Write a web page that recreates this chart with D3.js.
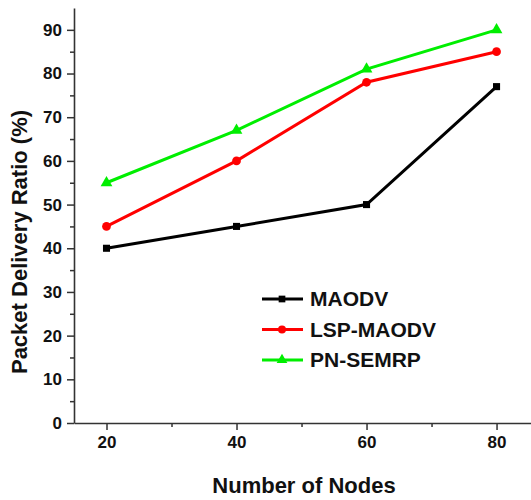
<!DOCTYPE html>
<html>
<head>
<meta charset="utf-8">
<script src="https://cdn.jsdelivr.net/npm/d3@7"></script>
<style>
body{margin:0;background:#fff;}
svg text{font-family:"Liberation Sans",Arial,sans-serif;font-weight:bold;fill:#111;}
</style>
</head>
<body>
<div id="chart"></div>
<script>
var nodes = [20, 40, 60, 80];
var maodv = [40, 45, 50, 77];
var lspMaodv = [45, 60, 78, 85];
var pnSemrp = [55, 67, 81, 90];
var seriesNames = ["MAODV", "LSP-MAODV", "PN-SEMRP"];
var seriesColors = ["#000000", "#ff0000", "#00ee00"];
var seriesShapes = [d3.symbolSquare, d3.symbolCircle, d3.symbolTriangle];
var yTicks = [0, 10, 20, 30, 40, 50, 60, 70, 80, 90];
var xTicks = [20, 40, 60, 80];

var width = 531, height = 500;
var margin = {left:74, right:0, top:8, bottom:77};

var svg = d3.select("#chart").append("svg")
	.attr("width", width)
	.attr("height", height);

var x = d3.scaleLinear().domain([15, 85.3]).range([margin.left, width-margin.right]);
var y = d3.scaleLinear().domain([0, 95]).range([height-margin.bottom, margin.top]);

// minor ticks
svg.append("g")
	.attr("transform", "translate(0,"+(height-margin.bottom)+")")
	.call(d3.axisBottom(x).tickValues([30, 50, 70]).tickSize(4).tickFormat(""))
	.call(function(g){g.select(".domain").remove();});
svg.append("g")
	.attr("transform", "translate("+margin.left+",0)")
	.call(d3.axisLeft(y).tickValues([5, 15, 25, 35, 45, 55, 65, 75, 85]).tickSize(4).tickFormat(""))
	.call(function(g){g.select(".domain").remove();});

var xAxis = svg.append("g")
	.attr("transform", "translate(0,"+(height-margin.bottom)+")")
	.call(d3.axisBottom(x).tickValues(xTicks).tickSize(7).tickSizeOuter(0).tickPadding(6));
var yAxis = svg.append("g")
	.attr("transform", "translate("+margin.left+",0)")
	.call(d3.axisLeft(y).tickValues(yTicks).tickSize(7).tickSizeOuter(0).tickPadding(5));

svg.selectAll(".domain").attr("stroke", "#333").attr("stroke-width", 1.6);
svg.selectAll(".tick line").attr("stroke", "#333").attr("stroke-width", 1.5);
xAxis.selectAll("text").style("font-size", "17px").attr("fill", "#111");
yAxis.selectAll("text").style("font-size", "17px").attr("fill", "#111");

svg.append("text")
	.attr("x", 304)
	.attr("y", 493)
	.attr("text-anchor", "middle")
	.style("font-size", "22px")
	.text("Number of Nodes");
svg.append("text")
	.attr("transform", "translate(27,242) rotate(-90)")
	.attr("text-anchor", "middle")
	.style("font-size", "22px")
	.text("Packet Delivery Ratio (%)");

var allSeries = [maodv, lspMaodv, pnSemrp];
var line = d3.line()
	.x(function(d, i){return x(nodes[i]);})
	.y(function(d){return y(d);});

allSeries.forEach(function(vals, s){
	svg.append("path")
		.datum(vals)
		.attr("fill", "none")
		.attr("stroke", seriesColors[s])
		.attr("stroke-width", 3)
		.attr("d", line);
	svg.selectAll(".pt"+s)
		.data(vals)
		.enter().append("path")
		.attr("transform", function(d, i){return "translate("+x(nodes[i])+","+y(d)+")";})
		.attr("d", d3.symbol().type(seriesShapes[s]).size(s==0 ? 50 : 60))
		.attr("fill", seriesColors[s]);
});

// legend
var legend = svg.append("g");
seriesNames.forEach(function(name, s){
	var ly = 299 + s*30.5;
	legend.append("line")
		.attr("x1", 262).attr("x2", 303)
		.attr("y1", ly).attr("y2", ly)
		.attr("stroke", seriesColors[s])
		.attr("stroke-width", 3);
	legend.append("path")
		.attr("transform", "translate(282,"+ly+")")
		.attr("d", d3.symbol().type(seriesShapes[s]).size(s==0 ? 45 : 50))
		.attr("fill", seriesColors[s]);
	legend.append("text")
		.attr("x", 310)
		.attr("y", ly+7)
		.style("font-size", "21px")
		.text(name);
});
</script>
</body>
</html>
